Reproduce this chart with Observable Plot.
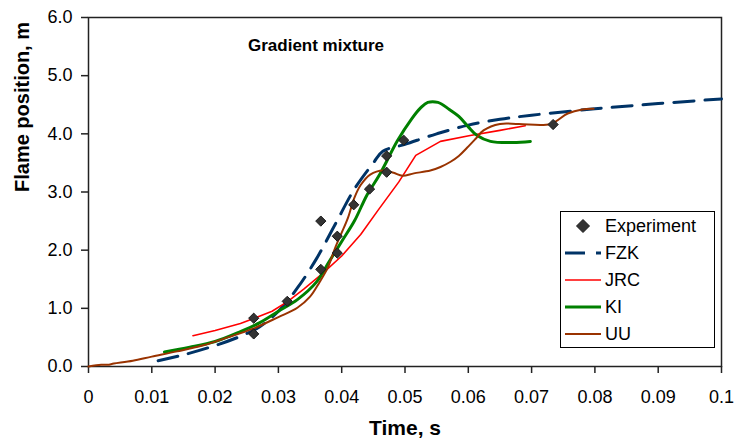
<!DOCTYPE html>
<html>
<head>
<meta charset="utf-8">
<script src="https://cdn.jsdelivr.net/npm/d3@7"></script>
<script src="https://cdn.jsdelivr.net/npm/@observablehq/plot@0.6"></script>
<style>
  html, body { margin: 0; padding: 0; background: #fff; }
  #chart { width: 735px; height: 440px; }
</style>
</head>
<body>
<div id="chart"></div>
<script>
// ---- Data ----
const xTicks = [0, 0.01, 0.02, 0.03, 0.04, 0.05, 0.06, 0.07, 0.08, 0.09, 0.1];
const yTicks = [0, 1, 2, 3, 4, 5, 6];

const seriesNames = ["Experiment", "FZK", "JRC", "KI", "UU"];
const seriesColors = ["#333333", "#003366", "#FF0000", "#008000", "#993300"];

const expT = [0.0261, 0.0261, 0.0314, 0.0367, 0.0367, 0.0393, 0.0393, 0.0419, 0.0444, 0.0471, 0.0471, 0.0498, 0.0734];
const expV = [0.83, 0.56, 1.12, 2.50, 1.67, 2.24, 1.95, 2.78, 3.05, 3.62, 3.34, 3.89, 4.16];

const fzkT = [0.011, 0.015, 0.020, 0.024, 0.027, 0.030, 0.033, 0.036, 0.039, 0.042, 0.045, 0.0465, 0.050, 0.055, 0.060, 0.065, 0.070, 0.080, 0.090, 0.100];
const fzkV = [0.10, 0.20, 0.36, 0.52, 0.68, 0.95, 1.35, 1.85, 2.45, 3.05, 3.50, 3.70, 3.82, 4.00, 4.15, 4.25, 4.32, 4.43, 4.52, 4.60];

const jrcT = [0.0165, 0.020, 0.024, 0.026, 0.029, 0.0315, 0.034, 0.037, 0.040, 0.043, 0.0457, 0.049, 0.0517, 0.0556, 0.0603, 0.065, 0.069];
const jrcV = [0.53, 0.62, 0.74, 0.82, 0.95, 1.12, 1.33, 1.60, 1.90, 2.27, 2.68, 3.17, 3.63, 3.87, 3.97, 4.06, 4.14];

const kiT = [0.012, 0.016, 0.020, 0.024, 0.027, 0.030, 0.033, 0.036, 0.038, 0.040, 0.042, 0.044, 0.046, 0.0488, 0.051, 0.0525, 0.0536, 0.0552, 0.057, 0.0585, 0.060, 0.0614, 0.0635, 0.0671, 0.0698];
const kiV = [0.25, 0.33, 0.43, 0.60, 0.75, 0.95, 1.15, 1.45, 1.80, 2.15, 2.50, 2.95, 3.30, 3.88, 4.25, 4.45, 4.54, 4.54, 4.42, 4.30, 4.12, 3.97, 3.87, 3.85, 3.87];

const uuT = [0, 0.002, 0.003, 0.004, 0.007, 0.010, 0.014, 0.018, 0.022, 0.026, 0.030, 0.033, 0.035, 0.0365, 0.0378, 0.039, 0.040, 0.041, 0.042, 0.043, 0.0445, 0.0466, 0.0482, 0.0496, 0.0514, 0.054, 0.0556, 0.0572, 0.0585, 0.0598, 0.0612, 0.0624, 0.065, 0.068, 0.073, 0.0757, 0.078, 0.0798];
const uuV = [0, 0.03, 0.03, 0.05, 0.10, 0.17, 0.26, 0.36, 0.50, 0.65, 0.85, 1.01, 1.20, 1.45, 1.70, 2.05, 2.30, 2.56, 2.90, 3.12, 3.30, 3.37, 3.33, 3.28, 3.32, 3.37, 3.43, 3.52, 3.62, 3.76, 3.92, 4.06, 4.17, 4.17, 4.17, 4.35, 4.42, 4.43];

const titleText = "Gradient mixture";
const xLabel = "Time, s";
const yLabel = "Flame position, m";

// ---- Build tables ----
const zip = (T, V) => T.map((t, i) => ({t, v: V[i]}));
const exp = zip(expT, expV);
const fzk = zip(fzkT, fzkV);
const jrc = zip(jrcT, jrcV);
const ki = zip(kiT, kiV);
const uu = zip(uuT, uuV);

const FONT = "'Liberation Sans', Arial, Helvetica, sans-serif";
const fmtX = d => d === 0 ? "0" : String(+d.toFixed(2));

const plot = Plot.plot({
  width: 735,
  height: 440,
  marginLeft: 88,
  marginRight: 14,
  marginTop: 17,
  marginBottom: 74,
  style: {fontFamily: FONT, background: "#fff", color: "#000"},
  x: {domain: [0, 0.1]},
  y: {domain: [0, 6]},
  marks: [
    Plot.frame({stroke: "#222", strokeWidth: 1.5}),
    Plot.axisX({ticks: xTicks, tickFormat: fmtX, tickSize: 7, tickPadding: 17, fontSize: 18, label: null, stroke: "#222", strokeWidth: 1.5}),
    Plot.axisY({ticks: yTicks, tickFormat: d => d.toFixed(1), tickSize: 7, tickPadding: 9, fontSize: 18, label: null, stroke: "#222", strokeWidth: 1.5}),
    Plot.line(fzk, {x: "t", y: "v", stroke: seriesColors[1], strokeWidth: 3, strokeDasharray: "20,11", curve: "catmull-rom"}),
    Plot.line(jrc, {x: "t", y: "v", stroke: seriesColors[2], strokeWidth: 1.6}),
    Plot.line(ki, {x: "t", y: "v", stroke: seriesColors[3], strokeWidth: 3, curve: "catmull-rom"}),
    Plot.line(uu, {x: "t", y: "v", stroke: seriesColors[4], strokeWidth: 2, curve: "catmull-rom"}),
    Plot.dot(exp, {x: "t", y: "v", symbol: "diamond2", r: 4.6, fill: seriesColors[0], stroke: "#1a1a1a", strokeWidth: 1}),
    Plot.text([titleText], {frameAnchor: "top", dx: -89, dy: 28, lineAnchor: "middle", fontSize: 17, fontWeight: "bold", fill: "#000"}),
    Plot.text([xLabel], {frameAnchor: "bottom", dy: 62, lineAnchor: "middle", fontSize: 21, fontWeight: "bold", fill: "#000"}),
    Plot.text([yLabel], {frameAnchor: "left", dx: -66, rotate: -90, lineAnchor: "middle", fontSize: 20, fontWeight: "bold", fill: "#000"})
  ]
});

// ---- Legend (inside plot area) ----
const svg = d3.select(plot);
const lg = svg.append("g").attr("font-family", FONT).attr("font-size", 18).attr("text-anchor", "start");
lg.append("rect").attr("x", 560.5).attr("y", 211.5).attr("width", 154).attr("height", 136)
  .attr("fill", "#fff").attr("stroke", "#000").attr("stroke-width", 1);
const rowY = [226, 253, 280, 307, 334];
seriesNames.forEach((name, i) => {
  const y = rowY[i];
  if (i === 0) {
    const s = 6.5;
    lg.append("path").attr("d", `M583,${y - s}L${583 + s},${y}L583,${y + s}L${583 - s},${y}Z`)
      .attr("fill", seriesColors[0]).attr("stroke", "#1a1a1a");
  } else {
    const w = [0, 3, 1.6, 3, 2][i];
    const ln = lg.append("line").attr("x1", 565).attr("x2", 601).attr("y1", y).attr("y2", y)
      .attr("stroke", seriesColors[i]).attr("stroke-width", w);
    if (i === 1) ln.attr("stroke-dasharray", "20,11");
  }
  lg.append("text").attr("x", 605).attr("y", y).attr("dy", "0.36em").attr("fill", "#000").text(name);
});

document.getElementById("chart").appendChild(plot);
</script>
</body>
</html>
